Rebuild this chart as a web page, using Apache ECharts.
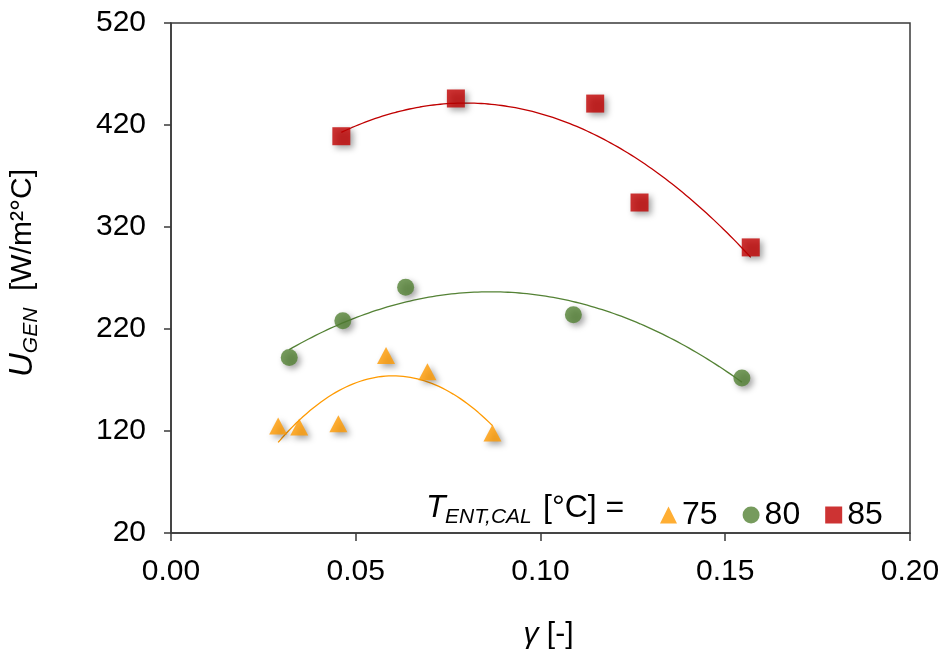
<!DOCTYPE html>
<html>
<head>
<meta charset="utf-8">
<script src="https://cdn.jsdelivr.net/npm/echarts@6/dist/echarts.min.js"></script>
<style>
  html, body { margin: 0; padding: 0; background: #fff; }
  #chart { width: 946px; height: 652px; }
</style>
</head>
<body>
<div id="chart"></div>
<script>
// Measured heat transfer coefficient vs. gamma, grouped by entering temperature
const seriesNames = ['75', '80', '85'];

const gamma75 = [0.0290, 0.0347, 0.0453, 0.0582, 0.0694, 0.0870];
const u75     = [125, 124, 127, 194, 178, 118];

const gamma80 = [0.0320, 0.0465, 0.0635, 0.1089, 0.1545];
const u80     = [192, 228, 261, 234, 172];

const gamma85 = [0.0461, 0.0771, 0.1148, 0.1268, 0.1569];
const u85     = [409, 446, 441, 344, 300];

const xTicks = { min: 0, max: 0.2, interval: 0.05 };
const yTicks = { min: 20, max: 520, interval: 100 };

const colors = ['#FF9A00', '#548235', '#C00000'];
const symbols = ['triangle', 'circle', 'rect'];

// Second-order least-squares trendline over the range of the data
function quadFit(xs, ys) {
  const n = xs.length;
  let s1 = 0, s2 = 0, s3 = 0, s4 = 0, t0 = 0, t1 = 0, t2 = 0;
  for (let i = 0; i < n; i++) {
    const x = xs[i], y = ys[i];
    s1 += x; s2 += x * x; s3 += x * x * x; s4 += x * x * x * x;
    t0 += y; t1 += x * y; t2 += x * x * y;
  }
  const M = [[n, s1, s2, t0], [s1, s2, s3, t1], [s2, s3, s4, t2]];
  for (let c = 0; c < 3; c++) {
    for (let r = c + 1; r < 3; r++) {
      const f = M[r][c] / M[c][c];
      for (let k = c; k < 4; k++) M[r][k] -= f * M[c][k];
    }
  }
  const coef = [0, 0, 0];
  for (let r = 2; r >= 0; r--) {
    let s = M[r][3];
    for (let k = r + 1; k < 3; k++) s -= M[r][k] * coef[k];
    coef[r] = s / M[r][r];
  }
  return coef;
}

function trendPoints(xs, ys) {
  const c = quadFit(xs, ys);
  const lo = Math.min.apply(null, xs), hi = Math.max.apply(null, xs);
  const pts = [];
  const steps = 120;
  for (let i = 0; i <= steps; i++) {
    const x = lo + (hi - lo) * i / steps;
    pts.push([x, c[0] + c[1] * x + c[2] * x * x]);
  }
  return pts;
}

const groups = [[gamma75, u75], [gamma80, u80], [gamma85, u85]];
const symbolSizes = [[18, 17], 17, 18];

const series = [];
groups.forEach(function (g, i) {
  series.push({
    name: seriesNames[i] + ' fit',
    type: 'line',
    data: trendPoints(g[0], g[1]),
    showSymbol: false,
    silent: true,
    lineStyle: { color: colors[i], width: 1.3 },
    z: 2
  });
});
groups.forEach(function (g, i) {
  series.push({
    name: seriesNames[i],
    type: 'scatter',
    data: g[0].map(function (x, k) { return [x, g[1][k]]; }),
    symbol: symbols[i],
    symbolSize: symbolSizes[i],
    itemStyle: {
      color: colors[i],
      shadowColor: 'rgba(0,0,0,0.45)',
      shadowBlur: 6,
      shadowOffsetX: 3,
      shadowOffsetY: 3
    },
    z: 3
  });
});

const axisColor = '#3a3a3a';
const font = 'Liberation Sans, Arial, sans-serif';

const chart = echarts.init(document.getElementById('chart'), null, { renderer: 'canvas' });
chart.setOption({
  animation: false,
  backgroundColor: '#fff',
  grid: {
    left: 171, right: 36, top: 23, bottom: 119,
    outerBoundsMode: 'none',
    containLabel: false,
    show: true, borderColor: axisColor, borderWidth: 1.5, backgroundColor: 'transparent'
  },
  xAxis: {
    type: 'value',
    min: xTicks.min, max: xTicks.max, interval: xTicks.interval,
    axisLine: { show: true, lineStyle: { color: axisColor, width: 1.5 } },
    axisTick: { show: true, inside: false, length: 8, lineStyle: { color: axisColor, width: 1.5 } },
    splitLine: { show: false },
    axisLabel: {
      color: '#000', fontFamily: font, fontSize: 30, margin: 24,
      formatter: function (v) { return v.toFixed(2); }
    },
    name: '{g|γ} [-]',
    nameLocation: 'middle',
    nameGap: 87,
    nameTextStyle: {
      color: '#000', fontFamily: font, fontSize: 30,
      padding: [0, 0, 0, 16],
      rich: { g: { fontStyle: 'italic', fontSize: 30, fontFamily: font, color: '#000' } }
    }
  },
  yAxis: {
    type: 'value',
    min: yTicks.min, max: yTicks.max, interval: yTicks.interval,
    axisLine: { show: true, lineStyle: { color: axisColor, width: 1.5 } },
    axisTick: { show: true, inside: false, length: 7, lineStyle: { color: axisColor, width: 1.5 } },
    splitLine: { show: false },
    axisLabel: { color: '#000', fontFamily: font, fontSize: 30, margin: 25 },
    name: '{u|U}{s|GEN}{n|  [W/m²°C]}',
    nameLocation: 'middle',
    nameRotate: 90,
    nameGap: 128,
    nameTextStyle: {
      color: '#000', fontFamily: font, fontSize: 30,
      padding: [0, 0, 0, 10],
      rich: {
        u: { fontStyle: 'italic', fontSize: 33, fontFamily: font, color: '#000', lineHeight: 40 },
        s: { fontStyle: 'italic', fontSize: 21, fontFamily: font, color: '#000', lineHeight: 22, padding: [16, 0, 0, 0] },
        n: { fontSize: 30, fontFamily: font, color: '#000', lineHeight: 40 }
      }
    }
  },
  legend: {
    data: seriesNames,
    left: 655, top: 494,
    itemWidth: 17, itemHeight: 17, itemGap: 25,
    itemStyle: { shadowBlur: 0, shadowOffsetX: 0, shadowOffsetY: 0 },
    textStyle: { color: '#000', fontFamily: font, fontSize: 32 }
  },
  graphic: [
    { type: 'text', left: 426, top: 492,
      style: { text: 'T', font: 'italic 32px ' + font, fill: '#000' } },
    { type: 'text', left: 445, top: 507,
      style: { text: 'ENT,CAL', font: 'italic 21px ' + font, fill: '#000' } },
    { type: 'text', left: 543, top: 492,
      style: { text: '[°C] =', font: '32px ' + font, fill: '#000' } }
  ],
  series: series
});
</script>
</body>
</html>
